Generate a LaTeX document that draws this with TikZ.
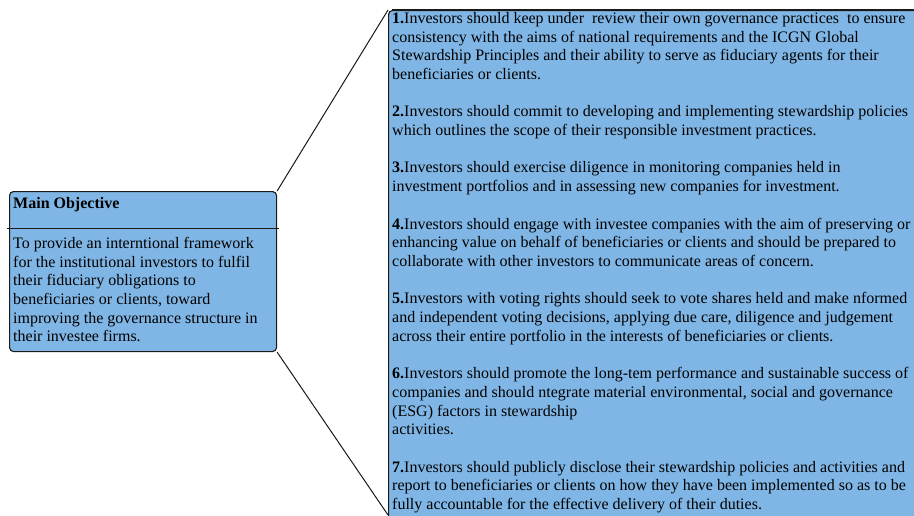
\documentclass[tikz,border=0pt]{standalone}
\usepackage{fontspec}
\setmainfont{Liberation Serif}
\definecolor{boxblue}{RGB}{128, 182, 229}
\definecolor{edgedark}{RGB}{25, 25, 25}
\usetikzlibrary{positioning, calc}
\newcommand{\pgap}{\\[18.7pt]}
\tikzset{
  panel/.style={draw=edgedark, fill=boxblue, line width=1.1pt, rounded corners=4pt},
  bodytext/.style={inner sep=2pt, align=left, font=\fontsize{16}{18.7}\selectfont},
  link/.style={draw=edgedark, line width=1pt}
}

\begin{document}
\begin{tikzpicture}[x=1pt, y=-1pt]
  \useasboundingbox (0,0) rectangle (914,515);

  % Principles panel (runs past the right and bottom edges)
  \node[panel, anchor=north west, minimum width=560, minimum height=540] (plist) at (388,10) {};
  \draw[edgedark, line width=1.8pt] ([xshift=4pt]plist.north west) -- (plist.north east);
  \node[bodytext, anchor=north west] (items) at (390,10) {
    \textbf{1.}Investors should keep under~ review their own governance practices~ to ensure\\
    consistency with the aims of national requirements and the ICGN Global\\
    Stewardship Principles and their ability to serve as fiduciary agents for their\\
    beneficiaries or clients.\pgap
    \textbf{2.}Investors should commit to developing and implementing stewardship policies\\
    which outlines the scope of their responsible investment practices.\pgap
    \textbf{3.}Investors should exercise diligence in monitoring companies held in\\
    investment portfolios and in assessing new companies for investment.\pgap
    \textbf{4.}Investors should engage with investee companies with the aim of preserving or\\
    enhancing value on behalf of beneficiaries or clients and should be prepared to\\
    collaborate with other investors to communicate areas of concern.\pgap
    \textbf{5.}Investors with voting rights should seek to vote shares held and make nformed\\
    and independent voting decisions, applying due care, diligence and judgement\\
    across their entire portfolio in the interests of beneficiaries or clients.\pgap
    \textbf{6.}Investors should promote the long-tem performance and sustainable success of\\
    companies and should ntegrate material environmental, social and governance\\
    (ESG) factors in stewardship\\
    activities.\pgap
    \textbf{7.}Investors should publicly disclose their stewardship policies and activities and\\
    report to beneficiaries or clients on how they have been implemented so as to be\\
    fully accountable for the effective delivery of their duties.
  };

  % Main objective box
  \node[panel, anchor=north west, minimum width=267, minimum height=160] (obj) at (9,191) {};
  \node[bodytext, anchor=north west, font=\fontsize{16}{18.7}\selectfont\bfseries] (objhead) at (11,195) {Main Objective};
  \coordinate (divl) at (7,228);
  \coordinate (divr) at (279,228);
  \draw[link] (divl) -- (divr);
  \node[bodytext, anchor=north west] (objtext) at (11,235) {
    To provide an interntional framework\\
    for the institutional investors to fulfil\\
    their fiduciary obligations to\\
    beneficiaries or clients, toward\\
    improving the governance structure in\\
    their investee firms.
  };

  % Connectors
  \coordinate (pbot) at (388,515);
  \draw[link] (obj.north east) -- (plist.north west);
  \draw[link] (obj.south east) -- (pbot);
\end{tikzpicture}
\end{document}
